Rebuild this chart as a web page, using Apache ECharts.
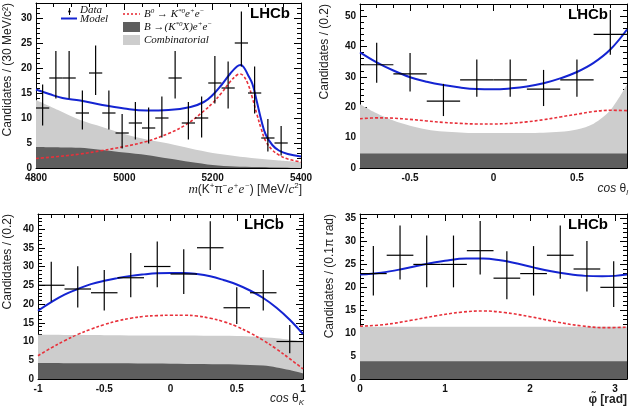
<!DOCTYPE html>
<html>
<head>
<meta charset="utf-8">
<script src="https://cdn.jsdelivr.net/npm/echarts@6/dist/echarts.min.js"></script>
<style>
html, body { margin: 0; padding: 0; background: #fff; }
#chart { width: 630px; height: 407px; }
</style>
</head>
<body>
<div id="chart"></div>
<script>
// ---- m(K pi e e) panel, 30 MeV bins
var mBinW = 30;
var mCenters = [4815, 4845, 4875, 4905, 4935, 4965, 4995, 5025, 5055, 5085, 5115, 5145, 5175, 5205, 5235, 5265, 5295, 5325, 5355];
var mCounts = [12, 18, 18, 11, 19, 11, 7, 9, 8, 10, 18, 9, 10, 17, 16, 25, 15, 6, 5];
var mErrLo = [8.5, 13.9, 13.9, 7.7, 14.6, 7.7, 3.9, 5.7, 4.9, 6.1, 13.9, 5.7, 6.1, 12.9, 11.9, 20.3, 10.9, 3.3, 2.5];
var mErrHi = [16.7, 23.4, 23.4, 15.5, 24.5, 15.5, 10.8, 13.2, 12.1, 14.3, 23.4, 13.2, 14.3, 22.4, 21.3, 31.3, 20.3, 9.8, 8.4];
var mModel = [[4800, 15.7], [4830, 14.8], [4860, 14.0], [4900, 13.5], [4950, 12.6], [5000, 11.9], [5050, 11.5], [5100, 11.6], [5150, 12.2], [5180, 13.2], [5200, 14.6], [5220, 16.6], [5240, 18.9], [5255, 20.3], [5263, 20.6], [5270, 20.2], [5280, 18.6], [5290, 16.8], [5300, 13.3], [5310, 9.6], [5320, 6.7], [5335, 4.6], [5350, 3.5], [5370, 2.8], [5400, 2.3]];
var mSignal = [[4800, 1.9], [4850, 2.3], [4900, 2.8], [4950, 3.5], [5000, 4.3], [5050, 5.3], [5100, 6.9], [5140, 8.7], [5180, 11.4], [5200, 13.0], [5220, 15.0], [5240, 17.3], [5255, 18.6], [5262, 18.8], [5270, 18.4], [5280, 16.8], [5290, 14.0], [5300, 10.8], [5310, 7.8], [5320, 5.4], [5335, 3.6], [5350, 2.6], [5370, 1.8], [5400, 1.2]];
var mBkg = [[4800, 13.6], [4850, 11.6], [4900, 9.6], [4950, 8.2], [5000, 6.8], [5050, 5.7], [5100, 4.9], [5150, 3.9], [5200, 3.0], [5250, 2.4], [5300, 1.9], [5350, 1.5], [5400, 1.2]];
var mPart = [[4800, 4.2], [4870, 4.1], [4910, 4.0], [4950, 3.6], [5000, 3.1], [5050, 2.6], [5100, 1.9], [5150, 1.2], [5200, 0.6], [5250, 0.3], [5300, 0.2], [5400, 0.1]];

// ---- cos theta_l panel
var lBinW = 0.2;
var lCenters = [-0.7, -0.5, -0.3, -0.1, 0.1, 0.3, 0.5, 0.7];
var lCounts = [34, 31, 22, 29, 29, 26, 29, 44];
var lErrLo = [28.1, 25.2, 17.1, 23.5, 23.5, 20.4, 23.5, 37.3];
var lErrHi = [41.2, 37.9, 27.7, 35.7, 35.7, 32.3, 35.7, 52.0];
var lModel = [[-0.8, 38.1], [-0.7, 34.8], [-0.6, 32.1], [-0.5, 29.9], [-0.4, 28.4], [-0.3, 27.3], [-0.2, 26.5], [-0.1, 26.0], [0, 25.9], [0.1, 26.2], [0.2, 26.8], [0.3, 27.9], [0.4, 29.5], [0.5, 31.6], [0.6, 34.6], [0.7, 39.0], [0.8, 45.6]];
var lSignal = [[-0.8, 16.2], [-0.7, 16.5], [-0.6, 16.4], [-0.5, 16.0], [-0.4, 15.5], [-0.3, 15.0], [-0.2, 14.7], [-0.1, 14.5], [0, 14.5], [0.1, 14.7], [0.2, 15.2], [0.3, 15.9], [0.4, 16.8], [0.5, 17.7], [0.6, 18.6], [0.7, 19.0], [0.8, 18.9]];
var lBkg = [[-0.8, 21.0], [-0.7, 18.0], [-0.6, 15.6], [-0.5, 13.9], [-0.4, 12.7], [-0.3, 12.0], [-0.2, 11.7], [-0.1, 11.5], [0, 11.5], [0.1, 11.5], [0.2, 11.5], [0.3, 11.6], [0.4, 11.9], [0.5, 12.7], [0.6, 14.6], [0.7, 19.0], [0.8, 27.5]];
var lPart = [[-0.8, 4.8], [0.8, 4.8]];

// ---- cos theta_K panel
var kBinW = 0.2;
var kCenters = [-0.9, -0.7, -0.5, -0.3, -0.1, 0.1, 0.3, 0.5, 0.7, 0.9];
var kCounts = [25, 24, 23, 27, 30, 28, 35, 19, 23, 10];
var kErrLo = [20.7, 19.1, 18.3, 21.8, 24.5, 22.7, 29.1, 14.7, 18.3, 6.9];
var kErrHi = [31.3, 30.1, 29.1, 33.6, 36.7, 34.6, 42.1, 24.5, 29.1, 14.4];
var kModel = [[-1, 18.2], [-0.9, 20.5], [-0.8, 22.5], [-0.7, 24.0], [-0.6, 25.3], [-0.5, 26.2], [-0.4, 26.9], [-0.3, 27.5], [-0.2, 27.9], [-0.1, 28.2], [0, 28.3], [0.1, 28.3], [0.2, 28.0], [0.3, 27.4], [0.4, 26.4], [0.5, 25.2], [0.6, 23.6], [0.7, 21.6], [0.8, 19.0], [0.9, 15.8], [1, 12.0]];
var kSignal = [[-1, 6.2], [-0.9, 8.3], [-0.8, 10.2], [-0.7, 11.9], [-0.6, 13.3], [-0.5, 14.5], [-0.4, 15.5], [-0.3, 16.2], [-0.2, 16.7], [-0.1, 16.9], [0, 17.0], [0.1, 17.0], [0.2, 16.8], [0.3, 16.2], [0.4, 15.3], [0.5, 14.0], [0.6, 12.3], [0.7, 10.3], [0.8, 8.0], [0.9, 5.4], [1, 2.7]];
var kBkg = [[-1, 11.8], [-0.5, 11.7], [0, 11.6], [0.5, 11.5], [0.65, 11.3], [0.8, 10.9], [0.9, 10.5], [1, 10.0]];
var kPart = [[-1, 4.3], [-0.5, 4.2], [0, 4.1], [0.5, 3.9], [0.7, 3.6], [0.8, 3.1], [0.9, 2.4], [1, 1.5]];

// ---- phi panel, 0.1 pi bins
var pBinW = Math.PI / 10;
var pCenters = [0.157, 0.471, 0.785, 1.100, 1.414, 1.728, 2.042, 2.356, 2.670, 2.985];
var pCounts = [23, 27, 25, 25, 28, 22, 23, 27, 24, 20];
var pErrLo = [18.2, 21.7, 20.0, 20.0, 22.8, 17.4, 18.2, 21.9, 19.1, 15.7];
var pErrHi = [29.0, 33.5, 31.3, 31.3, 34.5, 27.9, 29.0, 33.5, 30.1, 25.7];
var pModel = [[0, 22.8], [0.25, 23.2], [0.5, 24.0], [0.75, 25.0], [1.0, 25.8], [1.25, 26.3], [1.45, 26.3], [1.65, 25.9], [1.85, 25.2], [2.05, 24.3], [2.25, 23.5], [2.45, 22.9], [2.65, 22.5], [2.85, 22.4], [3.0, 22.5], [3.1416, 22.8]];
var pSignal = [[0, 11.5], [0.3, 11.9], [0.6, 12.8], [0.9, 13.8], [1.2, 14.6], [1.45, 14.85], [1.7, 14.5], [2.0, 13.6], [2.3, 12.5], [2.6, 11.6], [2.9, 11.2], [3.1416, 11.3]];
var pBkg = [[0, 11.4], [3.1416, 11.4]];
var pPart = [[0, 3.9], [3.1416, 3.9]];

var BLUE = '#1424d2';
var RED = '#e8303a';
var DARK = '#5e5e5e';
var LIGHT = '#cdcdcd';

var chart = echarts.init(document.getElementById('chart'));

var grids = [
  {left: 36, top: 3, width: 265, height: 165},
  {left: 360, top: 4, width: 268, height: 164},
  {left: 38, top: 214, width: 265, height: 165},
  {left: 360, top: 214, width: 268, height: 165}
];

// only print labels that sit on a round step (hides the axis-end values)
function stepFmt(step) {
  return function (v) {
    var r = v / step;
    if (Math.abs(r - Math.round(r)) > 1e-6) return '';
    return String(+v.toFixed(6));
  };
}

function axis(g, pos, min, max, split, step, labels) {
  return {
    gridIndex: g, type: 'value', position: pos, min: min, max: max, splitNumber: split,
    axisLine: {show: true, onZero: false, lineStyle: {color: '#000', width: 1}},
    axisTick: {show: true, inside: true, length: 7, lineStyle: {color: '#000', width: 1}},
    minorTick: {show: true, splitNumber: 5, length: 4, lineStyle: {color: '#000', width: 1}},
    splitLine: {show: false},
    axisLabel: {
      show: labels, formatter: stepFmt(step), margin: (pos == 'left' ? 4 : 5),
      color: '#111', fontSize: 10, fontWeight: 'bold', fontFamily: 'Liberation Sans'
    }
  };
}

var xAxes = [], yAxes = [];
var xr = [[4800, 5400, 3, 200], [-0.8, 0.8, 3, 0.5], [-1, 1, 4, 0.5], [0, Math.PI, 3, 1]];
var yr = [[0, 33, 6, 5], [0, 54, 5, 10], [0, 44, 8, 5], [0, 36, 7, 5]];
for (var g = 0; g < 4; g++) {
  xAxes.push(axis(g, 'bottom', xr[g][0], xr[g][1], xr[g][2], xr[g][3], true));
  xAxes.push(axis(g, 'top', xr[g][0], xr[g][1], xr[g][2], xr[g][3], false));
  yAxes.push(axis(g, 'left', yr[g][0], yr[g][1], yr[g][2], yr[g][3], true));
  yAxes.push(axis(g, 'right', yr[g][0], yr[g][1], yr[g][2], yr[g][3], false));
}

function areaSeries(g, pts, color, z) {
  return {
    type: 'line', xAxisIndex: 2 * g, yAxisIndex: 2 * g, data: pts, smooth: 0.3,
    symbol: 'none', silent: true, z: z,
    lineStyle: {width: 0}, areaStyle: {color: color, opacity: 1}
  };
}

function curveSeries(g, pts, color, width, dash, z) {
  return {
    type: 'line', xAxisIndex: 2 * g, yAxisIndex: 2 * g, data: pts, smooth: 0.4,
    symbol: 'none', silent: true, z: z,
    lineStyle: {color: color, width: width, type: dash}
  };
}

function dataSeries(g, centers, counts, lo, hi, binW) {
  var d = [];
  for (var i = 0; i < centers.length; i++) d.push([centers[i], counts[i], lo[i], hi[i]]);
  return {
    type: 'custom', xAxisIndex: 2 * g, yAxisIndex: 2 * g, data: d, z: 6, silent: true,
    encode: {x: 0, y: 1},
    renderItem: function (params, api) {
      var x = api.value(0), y = api.value(1);
      var a = api.coord([x - binW / 2, y]);
      var b = api.coord([x + binW / 2, y]);
      var t = api.coord([x, api.value(3)]);
      var u = api.coord([x, api.value(2)]);
      var st = {stroke: '#000', lineWidth: 1.2};
      return {type: 'group', children: [
        {type: 'line', shape: {x1: a[0], y1: a[1], x2: b[0], y2: b[1]}, style: st},
        {type: 'line', shape: {x1: t[0], y1: t[1], x2: u[0], y2: u[1]}, style: st}
      ]};
    }
  };
}

var panels = [
  [mBkg, mPart, mSignal, mModel, mCenters, mCounts, mErrLo, mErrHi, mBinW],
  [lBkg, lPart, lSignal, lModel, lCenters, lCounts, lErrLo, lErrHi, lBinW],
  [kBkg, kPart, kSignal, kModel, kCenters, kCounts, kErrLo, kErrHi, kBinW],
  [pBkg, pPart, pSignal, pModel, pCenters, pCounts, pErrLo, pErrHi, pBinW]
];
var series = [];
panels.forEach(function (p, g) {
  series.push(areaSeries(g, p[0], LIGHT, 1));
  series.push(areaSeries(g, p[1], DARK, 2));
  series.push(curveSeries(g, p[2], RED, 1.6, [3, 2], 3));
  series.push(curveSeries(g, p[3], BLUE, 2, 'solid', 4));
  series.push(dataSeries(g, p[4], p[5], p[6], p[7], p[8]));
});

var SANS = '"Liberation Sans", Arial, sans-serif';
var SERIF = '"Liberation Serif", "Times New Roman", serif';

function yTitle(x, y, txt) {
  return {type: 'text', x: x, y: y, rotation: Math.PI / 2,
    style: {text: txt, textAlign: 'right', textVerticalAlign: 'middle', font: '12px ' + SANS, fill: '#222'}};
}
function lhcb(x, y) {
  return {type: 'text', x: x, y: y,
    style: {text: 'LHCb', textAlign: 'right', textVerticalAlign: 'middle', font: 'bold 15px ' + SANS, fill: '#000'}};
}
var richStyles = {
  i: {fontFamily: SERIF, fontStyle: 'italic', fontSize: 13, lineHeight: 16},
  is: {fontFamily: SANS, fontStyle: 'italic', fontSize: 12, lineHeight: 16},
  sup: {fontSize: 8, verticalAlign: 'top', lineHeight: 16},
  supi: {fontFamily: SERIF, fontStyle: 'italic', fontSize: 8, verticalAlign: 'top', lineHeight: 16},
  sub: {fontFamily: SANS, fontStyle: 'italic', fontSize: 8, verticalAlign: 'bottom', lineHeight: 16},
  n: {fontSize: 12, lineHeight: 16}
};
function xTitle(x, y, txt, bold) {
  return {type: 'text', x: x, y: y,
    style: {text: txt, rich: richStyles, textAlign: 'right', textVerticalAlign: 'middle',
      font: (bold ? 'bold ' : '') + '12px ' + SANS, fill: '#222', lineHeight: 16}};
}
function legText(x, y, txt) {
  return {type: 'text', x: x, y: y,
    style: {text: txt, rich: {
      sup: {fontFamily: SERIF, fontStyle: 'italic', fontSize: 7, verticalAlign: 'top', lineHeight: 13},
      t: {fontFamily: SERIF, fontStyle: 'italic', fontSize: 11, lineHeight: 13}
    }, textAlign: 'left', textVerticalAlign: 'middle', font: 'italic 11px ' + SERIF, fill: '#111', lineHeight: 13}};
}

var graphic = [
  yTitle(8, 3, 'Candidates / (30 MeV/c²)'),
  yTitle(325, 4, 'Candidates / (0.2)'),
  yTitle(8, 214, 'Candidates / (0.2)'),
  yTitle(330, 214, 'Candidates / (0.1π rad)'),
  lhcb(290, 14), lhcb(608, 15), lhcb(284, 225), lhcb(608, 225),
  xTitle(302, 190, '{i|m}{n|(K}{sup|+}{n|π}{sup|−}{i|e}{supi|+}{i|e}{supi|−}{n|) [MeV/}{i|c}{sup|2}{n|]}', false),
  xTitle(628, 189, '{is|cos}{n| θ}{sub|l}', false),
  xTitle(304, 399, '{is|cos}{n| θ}{sub|K}', false),
  xTitle(627, 400, 'φ̃ [rad]', true),
  // legend
  {type: 'line', shape: {x1: 69.5, y1: 8, x2: 69.5, y2: 15}, style: {stroke: '#000', lineWidth: 1}},
  {type: 'circle', shape: {cx: 69.5, cy: 11.5, r: 1.2}, style: {fill: '#000'}},
  legText(80, 10, '{t|Data}'),
  {type: 'line', shape: {x1: 61, y1: 18.5, x2: 77, y2: 18.5}, style: {stroke: BLUE, lineWidth: 2}},
  legText(80, 19.5, '{t|Model}'),
  {type: 'line', shape: {x1: 123, y1: 14, x2: 140, y2: 14}, style: {stroke: RED, lineWidth: 1.6, lineDash: [2, 2]}},
  legText(144, 14, '{t|B}{sup|0}{t| → K}{sup|*0}{t|e}{sup|+}{t|e}{sup|−}'),
  {type: 'rect', shape: {x: 123, y: 22, width: 17, height: 10}, style: {fill: DARK}},
  legText(144, 27, '{t|B →(K}{sup|*0}{t|X)e}{sup|+}{t|e}{sup|−}'),
  {type: 'rect', shape: {x: 123, y: 35, width: 17, height: 10}, style: {fill: LIGHT}},
  legText(144, 40, '{t|Combinatorial}')
];

var option = {
  animation: false,
  backgroundColor: '#fff',
  grid: grids,
  xAxis: xAxes,
  yAxis: yAxes,
  series: series,
  graphic: graphic
};
chart.setOption(option);
</script>
</body>
</html>
